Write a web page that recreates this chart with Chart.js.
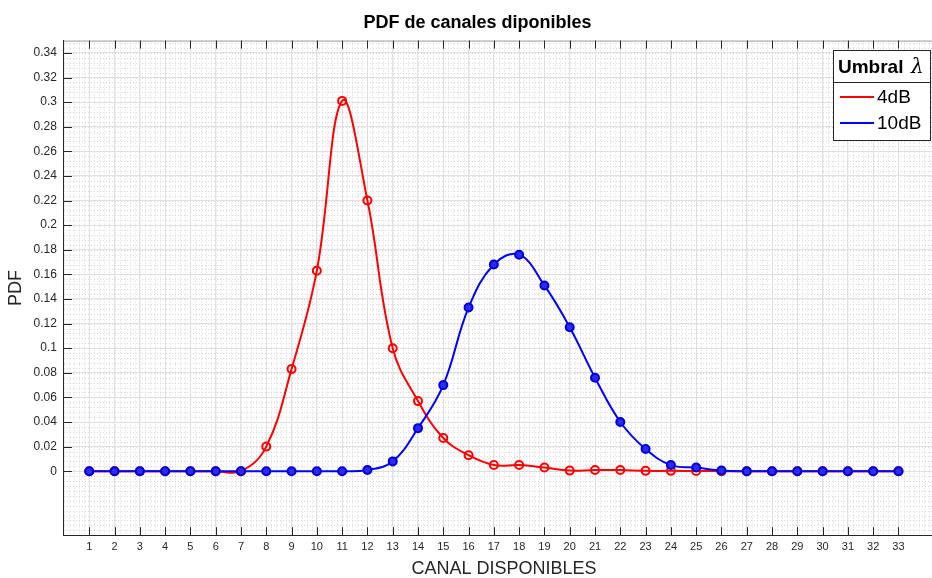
<!DOCTYPE html>
<html>
<head>
<meta charset="utf-8">
<script src="https://cdn.jsdelivr.net/npm/chart.js@4"></script>
<style>
    html, body { margin: 0; padding: 0; background: #fff; overflow: hidden; }
    #wrap { position: relative; width: 950px; height: 587px; }
</style>
</head>
<body>
<div id="wrap"><canvas id="pdf-chart"></canvas></div>
<script>
// ---- datos ----
const canales = [1, 2, 3, 4, 5, 6, 7, 8, 9, 10, 11, 12, 13, 14, 15, 16, 17, 18, 19, 20, 21, 22, 23, 24, 25, 26, 27, 28, 29, 30, 31, 32, 33];
const pdf4dB = [0, 0, 0, 0, 0, 0, 0, 0.02, 0.083, 0.163, 0.301, 0.22, 0.1, 0.057, 0.027, 0.013, 0.005, 0.005, 0.003, 0.0005, 0.001, 0.001, 0.0003, 0.0003, 0.0002, 0, 0, 0, 0, 0, 0, 0, 0];
const pdf10dB = [0, 0, 0, 0, 0, 0, 0, 0, 0, 0, 0, 0.001, 0.008, 0.035, 0.07, 0.133, 0.168, 0.176, 0.151, 0.117, 0.076, 0.04, 0.018, 0.005, 0.003, 0.0005, 0, 0, 0, 0, 0, 0, 0];
const yTicks = [0, 0.02, 0.04, 0.06, 0.08, 0.1, 0.12, 0.14, 0.16, 0.18, 0.2, 0.22, 0.24, 0.26, 0.28, 0.3, 0.32, 0.34];
const leyenda = ['4dB', '10dB'];

const FONT = "'Liberation Sans', Arial, Helvetica, sans-serif";
const ROJO = '#ff0000';
const AZUL = '#0000ff';

// rejilla secundaria punteada (como MATLAB minor grid)
const minorGrid = {
    id: 'minorGrid',
    beforeDatasetsDraw(chart) {
        const { ctx, chartArea: a, scales: { x, y } } = chart;
        ctx.save();
        ctx.strokeStyle = '#d9d9d9';
        ctx.lineWidth = 1;
        ctx.setLineDash([1, 2]);
        ctx.beginPath();
        for (let v = x.min; v <= x.max; v += 0.2) {
            const px = Math.round(x.getPixelForValue(v)) + 0.5;
            ctx.moveTo(px, a.top); ctx.lineTo(px, a.bottom);
        }
        for (let v = -0.048; v <= y.max; v += 0.004) {
            const py = Math.round(y.getPixelForValue(v)) + 0.5;
            ctx.moveTo(a.left, py); ctx.lineTo(a.right, py);
        }
        ctx.stroke();
        ctx.restore();
    }
};

// marcas hacia dentro, borde superior y leyenda con titulo
const axesBox = {
    id: 'axesBox',
    afterDraw(chart) {
        const { ctx, chartArea: a, scales: { x, y } } = chart;
        ctx.save();
        ctx.strokeStyle = '#9a9a9a';
        ctx.lineWidth = 1;
        ctx.beginPath();
        ctx.moveTo(a.left, a.top + 0.5); ctx.lineTo(a.right, a.top + 0.5);
        ctx.stroke();

        ctx.strokeStyle = '#262626';
        ctx.beginPath();
        canales.forEach((c) => {
            const px = Math.round(x.getPixelForValue(c)) + 0.5;
            ctx.moveTo(px, a.bottom); ctx.lineTo(px, a.bottom - 8);
            ctx.moveTo(px, a.top); ctx.lineTo(px, a.top + 8);
        });
        yTicks.forEach((t) => {
            const py = Math.round(y.getPixelForValue(t)) + 0.5;
            ctx.moveTo(a.left, py); ctx.lineTo(a.left + 8, py);
        });
        ctx.stroke();

        // leyenda
        const lx = 833, ly = 50, lw = 97, lh = 90;
        ctx.fillStyle = '#fff';
        ctx.fillRect(lx, ly, lw, lh);
        ctx.strokeStyle = '#262626';
        ctx.strokeRect(lx + 0.5, ly + 0.5, lw, lh);
        ctx.beginPath();
        ctx.moveTo(lx, ly + 32.5); ctx.lineTo(lx + lw, ly + 32.5);
        ctx.stroke();

        ctx.fillStyle = '#000';
        ctx.textBaseline = 'middle';
        ctx.font = 'bold 19px ' + FONT;
        ctx.fillText('Umbral', lx + 5, ly + 18);
        ctx.font = 'italic 20px "DejaVu Serif", "Liberation Serif", serif';
        ctx.fillText('\u03bb', lx + 78, ly + 18);

        ctx.font = '19px ' + FONT;
        const colores = [ROJO, AZUL];
        leyenda.forEach((txt, i) => {
            const cy = ly + 47 + i * 26;
            ctx.strokeStyle = colores[i];
            ctx.lineWidth = 2;
            ctx.beginPath();
            ctx.moveTo(lx + 7, cy); ctx.lineTo(lx + 41, cy);
            ctx.stroke();
            ctx.fillStyle = '#000';
            ctx.fillText(txt, lx + 44, cy + 1);
        });
        ctx.restore();
    }
};

const toXY = (arr) => canales.map((c, i) => ({ x: c, y: arr[i] }));

new Chart(document.getElementById('pdf-chart'), {
    type: 'line',
    data: {
        datasets: [
            {
                label: leyenda[0],
                data: toXY(pdf4dB),
                borderColor: ROJO,
                borderWidth: 2,
                tension: 0.4,
                pointStyle: 'circle',
                pointRadius: 4,
                pointBorderWidth: 2,
                pointBorderColor: ROJO,
                pointBackgroundColor: 'rgba(0,0,0,0)',
                order: 1
            },
            {
                label: leyenda[1],
                data: toXY(pdf10dB),
                borderColor: AZUL,
                borderWidth: 2,
                tension: 0.4,
                pointStyle: 'circle',
                pointRadius: 4,
                pointBorderWidth: 2,
                pointBorderColor: '#0000d0',
                pointBackgroundColor: '#2a2aff',
                order: 0
            }
        ]
    },
    options: {
        responsive: true,
        maintainAspectRatio: false,
        animation: false,
        layout: { padding: { top: 0, left: 5, right: 0, bottom: 7 } },
        plugins: {
            legend: { display: false },
            tooltip: { enabled: false },
            title: {
                display: true,
                text: 'PDF de canales diponibles',
                color: '#000',
                font: { family: FONT, size: 18, weight: 'bold' },
                padding: { top: 12, bottom: 7 }
            }
        },
        scales: {
            x: {
                type: 'linear',
                min: 0,
                max: 34.8,
                afterBuildTicks: (axis) => { axis.ticks = canales.map((v) => ({ value: v })); },
                ticks: { color: '#262626', font: { family: FONT, size: 11 }, padding: 5, autoSkip: false, maxRotation: 0 },
                grid: { color: '#e2e2e2', drawTicks: false },
                border: { color: '#262626', width: 1 },
                title: { display: true, text: 'CANAL DISPONIBLES', color: '#262626', font: { family: FONT, size: 18 }, padding: { top: 0, bottom: 0 } }
            },
            y: {
                type: 'linear',
                min: -0.052,
                max: 0.35,
                afterBuildTicks: (axis) => { axis.ticks = yTicks.map((v) => ({ value: v })); },
                ticks: { color: '#262626', font: { family: FONT, size: 12 }, padding: 7, callback: (v) => String(v) },
                grid: { color: '#e2e2e2', drawTicks: false },
                border: { color: '#262626', width: 1 },
                title: { display: true, text: 'PDF', color: '#262626', font: { family: FONT, size: 18 }, padding: { top: 0, bottom: 0 } }
            }
        }
    },
    plugins: [minorGrid, axesBox]
});
</script>
</body>
</html>
